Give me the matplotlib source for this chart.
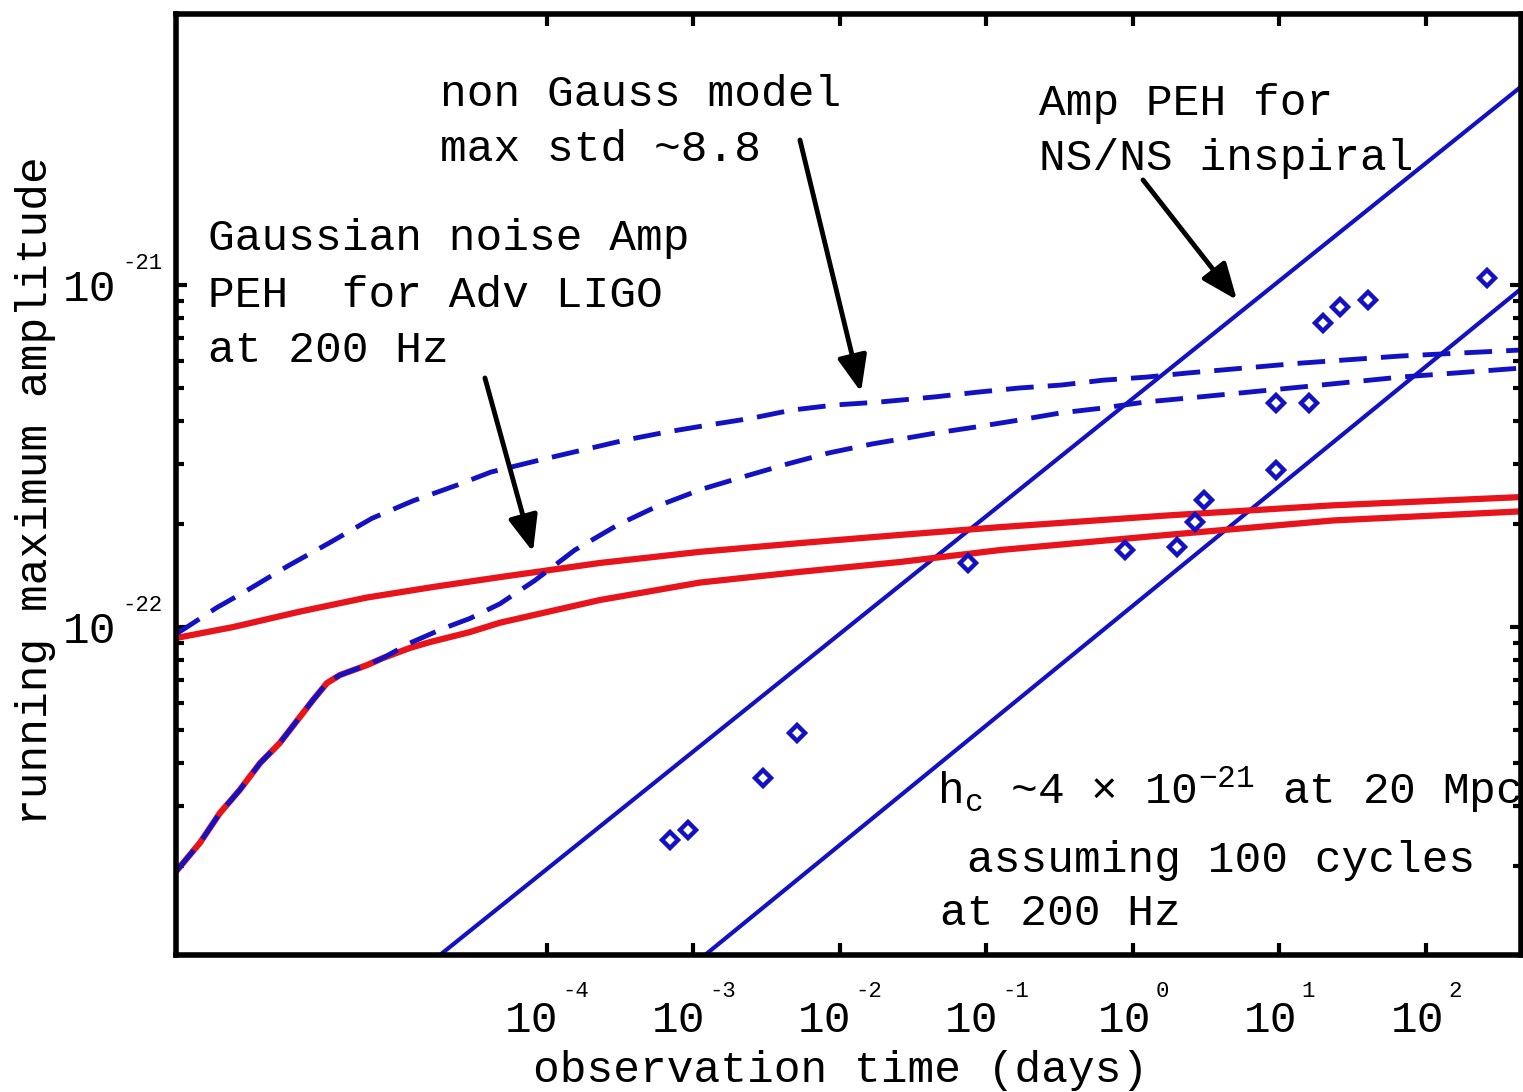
import matplotlib
matplotlib.use("Agg")
import matplotlib.pyplot as plt
import matplotlib.transforms as mtransforms
from matplotlib.ticker import FixedLocator, NullLocator, NullFormatter

plt.rcParams['font.family'] = ['Liberation Mono', 'DejaVu Sans']
plt.rcParams['mathtext.fontset'] = 'custom'
plt.rcParams['mathtext.rm'] = 'Liberation Mono'
plt.rcParams['mathtext.it'] = 'Liberation Mono'
plt.rcParams['mathtext.default'] = 'regular'

# axis ranges (days, strain amplitude)
t_range = [2.94e-7, 445]
amp_range = [1.10e-23, 6.20e-21]
x_ticks = [1e-4, 1e-3, 1e-2, 1e-1, 1e0, 1e1, 1e2]
x_exponents = ['-4', '-3', '-2', '-1', '0', '1', '2']
y_ticks = [1e-22, 1e-21]
y_exponents = ['-22', '-21']
y_minor = [2e-23, 3e-23, 4e-23, 5e-23, 6e-23, 7e-23, 8e-23, 9e-23,
           2e-22, 3e-22, 4e-22, 5e-22, 6e-22, 7e-22, 8e-22, 9e-22]

# Gaussian noise running max (red), upper and lower curve
gauss_hi_t = [2.94e-7, 7.19e-7, 2.06e-6, 5.9e-6, 1.67e-5, 4.78e-5, 2.30e-4, 1.11e-3,
              5.3e-3, 0.0257, 0.124, 1.71, 23.2, 450]
gauss_hi_amp = [0.929e-22, 1.00e-22, 1.11e-22, 1.22e-22, 1.31e-22, 1.40e-22, 1.54e-22, 1.66e-22,
                1.76e-22, 1.86e-22, 1.96e-22, 2.12e-22, 2.27e-22, 2.40e-22]
gauss_lo_t = [2.94e-7, 4.28e-7, 5.86e-7, 8.0e-7, 1.10e-6, 1.50e-6, 2.06e-6, 2.53e-6, 3.15e-6,
              3.86e-6, 5.9e-6, 7.6e-6, 1.16e-5, 1.59e-5, 2.98e-5, 4.78e-5, 2.30e-4, 1.11e-3,
              5.3e-3, 0.0257, 0.124, 1.71, 23.2, 450]
gauss_lo_amp = [0.193e-22, 0.234e-22, 0.286e-22, 0.334e-22, 0.400e-22, 0.458e-22, 0.546e-22,
                0.612e-22, 0.686e-22, 0.724e-22, 0.774e-22, 0.812e-22, 0.869e-22, 0.904e-22,
                0.967e-22, 1.03e-22, 1.20e-22, 1.35e-22, 1.45e-22, 1.55e-22, 1.68e-22,
                1.86e-22, 2.05e-22, 2.18e-22]

# non Gauss model running max (blue dashed)
nongauss_hi_t = [2.94e-7, 3.49e-7, 5.58e-7, 8.7e-7, 1.71e-6, 3.25e-6, 6.4e-6, 1.22e-5, 2.43e-5,
                 4.15e-5, 8.95e-5, 1.73e-4, 3.40e-4, 6.6e-4, 1.28e-3, 2.5e-3, 4.7e-3, 9.2e-3,
                 0.0187, 0.0445, 0.086, 0.167, 0.323, 0.624, 1.23, 2.34, 13.8, 66.5, 450]
nongauss_hi_amp = [0.955e-22, 1.00e-22, 1.14e-22, 1.27e-22, 1.51e-22, 1.76e-22, 2.08e-22,
                   2.34e-22, 2.60e-22, 2.84e-22, 3.08e-22, 3.29e-22, 3.52e-22, 3.72e-22,
                   3.90e-22, 4.08e-22, 4.31e-22, 4.46e-22, 4.55e-22, 4.71e-22, 4.86e-22,
                   5.00e-22, 5.10e-22, 5.27e-22, 5.38e-22, 5.53e-22, 5.91e-22, 6.20e-22, 6.46e-22]
nongauss_lo_t = [2.94e-7, 4.28e-7, 5.86e-7, 8.0e-7, 1.10e-6, 1.50e-6, 2.06e-6, 2.53e-6, 3.15e-6,
                 3.86e-6, 5.9e-6, 7.6e-6, 1.16e-5, 1.95e-5, 2.98e-5, 4.78e-5, 8.3e-5, 1.55e-4,
                 3.05e-4, 5.7e-4, 1.14e-3, 2.25e-3, 4.4e-3, 8.4e-3, 0.0165, 0.0286, 0.0445,
                 0.086, 0.167, 0.323, 0.624, 1.21, 2.34, 13.8, 66.5, 450]
nongauss_lo_amp = [0.193e-22, 0.234e-22, 0.286e-22, 0.334e-22, 0.400e-22, 0.458e-22, 0.546e-22,
                   0.612e-22, 0.686e-22, 0.724e-22, 0.774e-22, 0.812e-22, 0.898e-22, 0.99e-22,
                   1.06e-22, 1.17e-22, 1.37e-22, 1.68e-22, 1.99e-22, 2.26e-22, 2.53e-22,
                   2.76e-22, 3.00e-22, 3.23e-22, 3.43e-22, 3.57e-22, 3.69e-22, 3.85e-22,
                   4.03e-22, 4.23e-22, 4.37e-22, 4.55e-22, 4.67e-22, 5.03e-22, 5.38e-22, 5.72e-22]

# NS/NS inspiral amplitude (blue solid)
inspiral_hi_t = [1.86e-5, 452]
inspiral_hi_amp = [1.10e-23, 3.82e-21]
inspiral_lo_t = [1.20e-3, 452]
inspiral_lo_amp = [1.10e-23, 9.8e-22]

# measured points (blue diamonds)
pts_t = [6.9e-4, 9.2e-4, 2.98e-3, 5.08e-3, 0.0748, 0.88, 2.0, 2.65, 3.05, 9.47, 9.47, 15.9,
         19.8, 25.9, 40.2, 261]
pts_amp = [2.38e-23, 2.55e-23, 3.62e-23, 4.9e-23, 1.54e-22, 1.68e-22, 1.71e-22, 2.03e-22,
           2.35e-22, 2.88e-22, 4.52e-22, 4.52e-22, 7.74e-22, 8.62e-22, 9.04e-22, 1.05e-21]

blue = '#1212c4'
red = '#e8141c'

fig = plt.figure(figsize=(15.23, 10.92), dpi=100)
ax = fig.add_axes([176 / 1523, 1 - 955 / 1092, 1345 / 1523, 941 / 1092])
ax.set_xscale('log')
ax.set_yscale('log')

ax.plot(inspiral_hi_t, inspiral_hi_amp, color=blue, lw=3)
ax.plot(inspiral_lo_t, inspiral_lo_amp, color=blue, lw=3)
ax.plot(gauss_hi_t, gauss_hi_amp, color=red, lw=4.5)
ax.plot(gauss_lo_t, gauss_lo_amp, color=red, lw=4.5)
for t, a in [(nongauss_hi_t, nongauss_hi_amp), (nongauss_lo_t, nongauss_lo_amp)]:
    ln, = ax.plot(t, a, color=blue, lw=3.5)
    ln.set_dashes((5.7, 2.9))
ax.plot(pts_t, pts_amp, 'D', color=blue, mfc='none', ms=8.5, mew=3.2)

ax.set_xlim(t_range)
ax.set_ylim(amp_range)

ax.xaxis.set_major_locator(FixedLocator(x_ticks))
ax.xaxis.set_minor_locator(NullLocator())
ax.set_xticklabels(['10'] * len(x_ticks))
ax.yaxis.set_major_locator(FixedLocator(y_ticks))
ax.yaxis.set_minor_locator(FixedLocator(y_minor))
ax.yaxis.set_minor_formatter(NullFormatter())
ax.set_yticklabels(['10'] * len(y_ticks))

ax.tick_params(which='both', direction='in', top=True, right=True, width=3, color='k')
ax.tick_params(axis='x', which='major', length=8.5, pad=55.4, labelsize=32)
ax.tick_params(axis='y', which='major', length=8, pad=62, labelsize=32)
ax.tick_params(axis='y', which='minor', length=5.5)
for s in ax.spines.values():
    s.set_linewidth(4)

# MATLAB-style 10^n labels: "10" as tick label, small exponent beside it
for lab, e in zip(ax.get_xticklabels(), x_exponents):
    dx = (-2 - 6.65 * len(e)) / 100
    lab.set_va('baseline')
    lab.set_transform(lab.get_transform() + mtransforms.ScaledTranslation(dx, 0, fig.dpi_scale_trans))
for t, e in zip(x_ticks, x_exponents):
    ax.annotate(e, xy=(t, 0), xycoords=ax.get_xaxis_transform(), xytext=(29, -42),
                textcoords='offset pixels', ha='center', va='baseline', fontsize=16,
                annotation_clip=False)
for lab in ax.get_yticklabels():
    lab.set_ha('center')
for t, e in zip(y_ticks, y_exponents):
    ax.annotate(e, xy=(0, t), xycoords=ax.get_yaxis_transform(), xytext=(-34, 16),
                textcoords='offset pixels', ha='center', va='baseline', fontsize=16,
                annotation_clip=False)

ax.set_xlabel('observation time (days)', fontsize=32)
ax.xaxis.set_label_coords(0.4944, -0.135)
ax.xaxis.label.set_va('baseline')
ax.set_ylabel('running maximum amplitude', fontsize=32)
ax.yaxis.set_label_coords(-0.0959, 0.494)
ax.yaxis.label.set_va('baseline')

tkw = dict(transform=ax.transAxes, fontsize=32, va='baseline', ha='left')
ax.text(0.1963, 0.9022, 'non Gauss model', **tkw)
ax.text(0.1963, 0.8438, 'max std ~8.8', **tkw)
ax.text(0.6416, 0.8927, 'Amp PEH for', **tkw)
ax.text(0.6416, 0.8342, 'NS/NS inspiral', **tkw)
ax.text(0.0238, 0.7492, 'Gaussian noise Amp', **tkw)
ax.text(0.0238, 0.6886, 'PEH  for Adv LIGO', **tkw)
ax.text(0.0238, 0.6302, 'at 200 Hz', **tkw)
ax.text(0.5658, 0.1605, r'h$_c$ ~4 × 10$^{-21}$ at 20 Mpc', **tkw)
ax.text(0.5881, 0.0882, 'assuming 100 cycles', **tkw)
ax.text(0.5680, 0.0319, 'at 200 Hz', **tkw)

akw = dict(xycoords='axes fraction', textcoords='axes fraction',
           arrowprops=dict(arrowstyle='-|>,head_length=1.1,head_width=0.45', lw=3.5,
                           color='k', mutation_scale=20, shrinkA=0, shrinkB=0))
ax.annotate('', xy=(0.2654, 0.4283), xytext=(0.2297, 0.6132), **akw)
ax.annotate('', xy=(0.5093, 0.5983), xytext=(0.4639, 0.8661), **akw)
ax.annotate('', xy=(0.7888, 0.6961), xytext=(0.7190, 0.8236), **akw)

fig.savefig('out.png', dpi=100)
